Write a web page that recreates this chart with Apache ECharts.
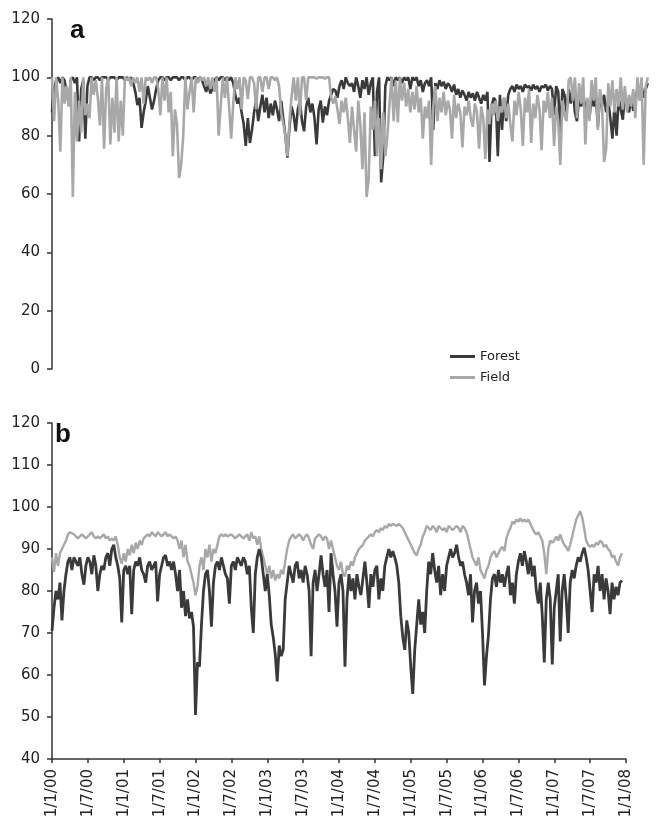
<!DOCTYPE html>
<html>
<head>
<meta charset="utf-8">
<title>Forest / Field</title>
<script src="https://cdn.jsdelivr.net/npm/echarts@6.0.0/dist/echarts.min.js"></script>
<style>
  html, body { margin: 0; padding: 0; background: #fff; }
  #chart { width: 657px; height: 821px; }
</style>
</head>
<body>
<div id="chart"></div>
<script>
// samples at 3 per month, starting 1/1/00
var SAMPLES_PER_MONTH = 3;

var xTickLabels = ['1/1/00', '1/7/00', '1/1/01', '1/7/01', '1/1/02', '1/7/02', '1/1/03', '1/7/03',
  '1/1/04', '1/7/04', '1/1/05', '1/7/05', '1/1/06', '1/7/06', '1/1/07', '1/7/07', '1/1/08'];

// panel a
var aForest = [
  88, 96, 99, 100, 98, 100, 99, 95, 91, 99, 100, 98, 100, 78, 96, 99, 79, 97, 100, 100, 99, 100, 100, 99, 100, 100, 100, 99, 100, 100, 100, 99, 100, 100, 100, 99,
  100, 99, 100, 98, 95, 90.5, 93, 82.7, 88, 92, 97, 93, 89, 92, 96, 99, 100, 100, 99, 100, 100, 99, 100, 100, 100, 99, 100, 100, 99, 100, 100, 99, 100, 100, 99, 100,
  99, 97, 95, 98, 94.5, 96, 99, 100, 99, 100, 100, 99, 100, 99, 100, 98, 94, 91, 93, 88, 84, 76.5, 86, 77.5, 82, 88, 92, 85, 90, 94, 88, 93, 86, 91, 87, 92,
  89, 85, 92, 86, 80, 72.5, 83, 90, 87, 81.5, 89, 92, 85, 81.5, 90, 93, 88, 91, 86, 77, 89, 92, 84.5, 90, 87, 92, 94, 96, 95.5, 93, 97, 99, 96, 100, 98, 97,
  98, 95, 100, 97, 93, 99, 96, 100, 94, 98, 100, 73, 95, 100, 64, 73, 97, 100, 99, 100, 97, 100, 99, 100, 98, 100, 99, 100, 96, 100, 99, 100, 97, 99, 95, 98,
  99, 97, 100, 82, 98, 96, 99, 97, 98.5, 96, 98, 97, 95, 97.5, 94, 96, 93, 95.5, 94, 92, 95, 93, 94.5, 92, 95, 93, 91, 94, 92, 95, 71, 90, 93, 92, 73, 94,
  82, 93, 85, 94, 96, 97, 95, 97.5, 96, 97, 95, 97.5, 96.5, 97, 95.5, 97.5, 96, 97, 95, 97, 96.5, 97.5, 95.5, 97, 96, 87, 97, 95, 80, 96, 94, 88, 96, 91, 97, 88,
  85, 93, 90, 95, 88, 92, 86, 94, 90, 95, 83, 93, 90, 94, 88, 92, 86, 79, 90, 80, 93, 89, 85.5, 94, 90, 88, 93, 88.5, 92, 96, 94, 97, 93, 96, 98
];
var aField = [
  100, 85, 100, 92, 74.5, 100, 91, 97, 90, 100, 59, 95, 78, 92, 81, 100, 87, 91, 86, 100, 94, 99, 93, 83.5, 100, 75.5, 96, 100, 77, 93, 81, 100, 78, 92, 80, 100,
  99, 100, 97, 100, 98, 100, 95, 100, 91, 100, 99, 100, 98, 100, 100, 96, 87, 100, 92, 100, 88, 95, 73, 89, 84, 65.5, 70, 80, 100, 89, 95, 100, 88, 100, 98, 100,
  99, 100, 97, 100, 96, 100, 95, 100, 80, 90.5, 100, 93, 100, 90, 79, 91, 100, 96, 100, 89, 100, 99, 92.5, 100, 100, 98, 89, 100, 100, 95, 100, 100, 96, 100, 100, 99,
  100, 97, 88, 84, 80, 73, 85, 93.5, 100, 92, 100, 87, 100, 100, 92, 100, 100, 100, 100, 99.5, 100, 100, 100, 99.5, 100, 100, 93, 91, 93.5, 89, 84, 92, 88, 93, 86, 77.5,
  90, 82, 74.5, 92, 84, 68.5, 88, 59, 65, 90, 82, 92, 73, 86, 68.5, 88, 73, 80, 91, 100, 85, 99, 84.5, 100, 92, 98, 90, 96, 88, 95, 89, 97, 88, 93, 79, 90,
  86, 92, 70, 90, 97, 85, 93, 88, 95, 87, 92, 89, 79, 94, 86, 91, 88, 76, 90, 87, 92, 86, 83, 91, 88, 75.5, 90, 86, 72, 89, 84, 91, 87, 92, 85, 90,
  88, 93, 86, 91, 84, 78, 92, 87, 95, 89, 76.5, 93, 88, 96, 77.5, 91, 86, 94, 89, 75, 92, 88, 95, 86, 93, 76.5, 90, 85, 70, 92, 87, 85, 99, 100, 92, 100,
  86, 98, 91, 100, 77, 93, 85, 99, 92, 100, 82, 96, 91, 71, 75.5, 98, 90, 99, 88, 96, 90, 100, 89, 97, 88, 94, 90, 96, 86, 100, 92, 100, 70, 97, 100
];

// panel b
var bForest = [
  70.5, 76, 80, 78, 82, 73, 80, 84, 87, 88, 85, 88, 87, 86, 88, 84, 81.5, 86, 88, 87, 84, 88.5, 86, 80, 84, 86, 85, 88, 89, 86, 90, 91, 88, 86, 83, 72.5,
  85, 86, 84, 86, 74.5, 85, 87, 86, 88, 85, 84, 82, 86, 87, 85, 86, 87, 77.5, 84, 86, 88, 88.5, 86, 87, 85, 87, 84, 80, 85, 76, 80, 74, 78, 73.5, 75, 71.5,
  50.5, 63, 62, 72, 80, 84, 85, 80, 71.5, 82, 86, 87, 85, 88, 86, 84, 83, 77, 86, 87, 85, 88, 87, 86, 88, 87, 84, 86, 76, 70, 84, 88, 90, 88, 84, 80,
  84, 79, 72, 69, 65, 58.5, 67, 64.5, 66, 78, 82, 86, 84, 82, 86, 87, 83, 85, 82, 86, 84, 80, 64.5, 82, 85, 80, 84, 88.5, 84, 81, 85, 75, 89, 84, 80, 71.5,
  82, 84, 80, 62, 78, 84, 80, 83, 78, 84, 81, 79, 83, 87, 82, 76, 84, 81, 85, 86, 78, 83, 80, 86, 88, 90, 88, 89.5, 88, 86, 82, 74, 69, 66, 73, 70,
  62, 55.5, 66, 72, 78, 72, 75, 70, 80, 87, 84, 89, 85, 82, 86, 79, 84, 80, 86, 88, 90, 88, 89, 91, 88, 86, 87, 84, 82, 79, 84, 72.5, 80, 82, 77, 80,
  70, 57.5, 64.5, 69.5, 78, 83, 84, 81, 85, 82, 84, 81, 84, 86, 79, 82, 77, 84, 87, 89, 86, 89.5, 87, 84, 88, 83.5, 86, 80, 77, 82, 74, 63, 78, 82, 78, 62.5,
  76, 80, 84, 68, 80, 84, 78, 70, 82, 85, 83, 86, 88, 87, 89, 90.3, 88, 85, 80, 75, 84, 82, 86, 80, 84, 78, 83, 80, 74.5, 82, 78, 81, 79, 82, 82.5
];
var bField = [
  88, 84.5, 89, 86, 89, 90, 91, 92, 93.5, 94, 94, 93.5, 93, 92.5, 93, 93.5, 93, 92.5, 93, 93.5, 94, 93, 92.5, 93, 92.5, 93, 93.5, 92.5, 93, 92, 92.5, 92, 93, 91, 88, 86.5,
  89, 87, 90, 88.5, 91, 89, 91.5, 90, 92, 91, 92.5, 93, 93.5, 93, 94, 93.5, 93, 94, 93.5, 93, 93.5, 94, 93, 93.5, 93, 92.5, 93, 92, 90, 92, 88, 91, 87, 86, 84, 82,
  79, 81, 86, 88, 85, 90, 88, 91, 87, 90, 89, 91, 93, 93.5, 93, 93.5, 93, 93, 93.5, 93, 92.5, 93, 93.5, 93, 92.5, 93, 93.5, 92, 94, 92.5, 93, 91, 93, 90, 88, 86,
  84, 86, 83, 85, 82.5, 84, 83, 85, 84, 87, 90, 92, 93, 93.5, 92.5, 93, 93.5, 93, 92, 93, 93.5, 92.5, 91, 90, 92.5, 93, 93.5, 93, 92, 93, 92.5, 90, 92, 90, 88, 86,
  85, 87, 84, 83.5, 86, 85, 87, 86, 88, 89, 90, 90.5, 91, 92, 92.5, 93, 93.5, 93, 94, 94.5, 94, 95, 94.5, 95.5, 95, 96, 95.5, 96, 96.2, 95.5, 96, 95.5, 95, 94, 93, 92,
  91, 90, 89, 88.5, 90, 91, 93, 94, 95.5, 95, 94.5, 95.5, 95, 94, 95.5, 95, 94.5, 95, 94, 95.5, 95, 94.5, 95, 95.5, 95, 94, 95.5, 95, 94, 92, 90, 88, 87, 86, 88, 85,
  84, 83, 85, 86, 88, 89, 89.5, 88, 89, 90, 90.5, 89.5, 92.5, 94, 95, 96.5, 96, 97, 96.5, 97.3, 96.5, 97, 96.5, 97, 96, 95, 94, 93.5, 94, 93, 92, 89, 84, 90, 92, 91.5,
  92, 93, 92, 93.5, 92, 91, 90.5, 89.5, 91, 93, 95, 97, 98, 99, 97.5, 95, 92, 91, 90.5, 91, 90.5, 91.5, 91, 92, 91.5, 90.5, 91, 90, 89.5, 88, 88.5, 87, 86, 88, 89
];

var FOREST_COLOR = '#3a3a3a';
var FIELD_COLOR = '#a8a8a8';

function toPoints(values) {
  return values.map(function (v, i) { return [i / SAMPLES_PER_MONTH, v]; });
}

function lineSeries(name, values, axis, color, width) {
  return {
    name: name,
    type: 'line',
    xAxisIndex: axis,
    yAxisIndex: axis,
    data: toPoints(values),
    symbol: 'none',
    lineStyle: { color: color, width: width, join: 'bevel' },
    itemStyle: { color: color },
    emphasis: { disabled: true }
  };
}

var axisLineStyle = { color: '#333', width: 1.5 };
var labelStyle = { fontFamily: 'DejaVu Sans', fontSize: 15, color: '#222' };

var myChart = echarts.init(document.getElementById('chart'));
var option = {
  animation: false,
  backgroundColor: '#fff',
  graphic: [
    { type: 'text', left: 70, top: 18, style: { text: 'a', font: 'bold 26px "Liberation Sans"', fill: '#111' } },
    { type: 'text', left: 55, top: 422, style: { text: 'b', font: 'bold 26px "Liberation Sans"', fill: '#111' } }
  ],
  legend: {
    orient: 'vertical',
    left: 445,
    top: 345,
    icon: 'rect',
    itemWidth: 25,
    itemHeight: 3,
    itemGap: 8,
    data: ['Forest', 'Field'],
    textStyle: { fontFamily: 'DejaVu Sans', fontSize: 13, color: '#222' }
  },
  grid: [
    { left: 52, top: 19, width: 600, height: 350 },
    { left: 52, top: 423, width: 574, height: 336 }
  ],
  xAxis: [
    { gridIndex: 0, type: 'value', min: 0, max: 96, show: false },
    {
      gridIndex: 1, type: 'value', min: 0, max: 96, interval: 6,
      axisLine: { lineStyle: axisLineStyle },
      axisTick: { inside: false, length: 4, lineStyle: axisLineStyle },
      splitLine: { show: false },
      axisLabel: {
        rotate: 90, margin: 10, showMinLabel: true, showMaxLabel: true,
        fontFamily: 'DejaVu Sans', fontSize: 15, color: '#222',
        formatter: function (v) { return xTickLabels[Math.round(v / 6)]; }
      }
    }
  ],
  yAxis: [
    {
      gridIndex: 0, type: 'value', min: 0, max: 120, interval: 20,
      axisLine: { show: true, lineStyle: axisLineStyle },
      axisTick: { show: true, length: 5, lineStyle: axisLineStyle },
      splitLine: { show: false },
      axisLabel: Object.assign({ margin: 12 }, labelStyle)
    },
    {
      gridIndex: 1, type: 'value', min: 40, max: 120, interval: 10,
      axisLine: { show: true, lineStyle: axisLineStyle },
      axisTick: { show: true, length: 5, lineStyle: axisLineStyle },
      splitLine: { show: false },
      axisLabel: Object.assign({ margin: 12 }, labelStyle)
    }
  ],
  series: [
    lineSeries('Forest', aForest, 0, FOREST_COLOR, 2.6),
    lineSeries('Field', aField, 0, FIELD_COLOR, 2.6),
    lineSeries('Field', bField, 1, FIELD_COLOR, 2.4),
    lineSeries('Forest', bForest, 1, FOREST_COLOR, 2.8)
  ]
};
myChart.setOption(option);
</script>
</body>
</html>
